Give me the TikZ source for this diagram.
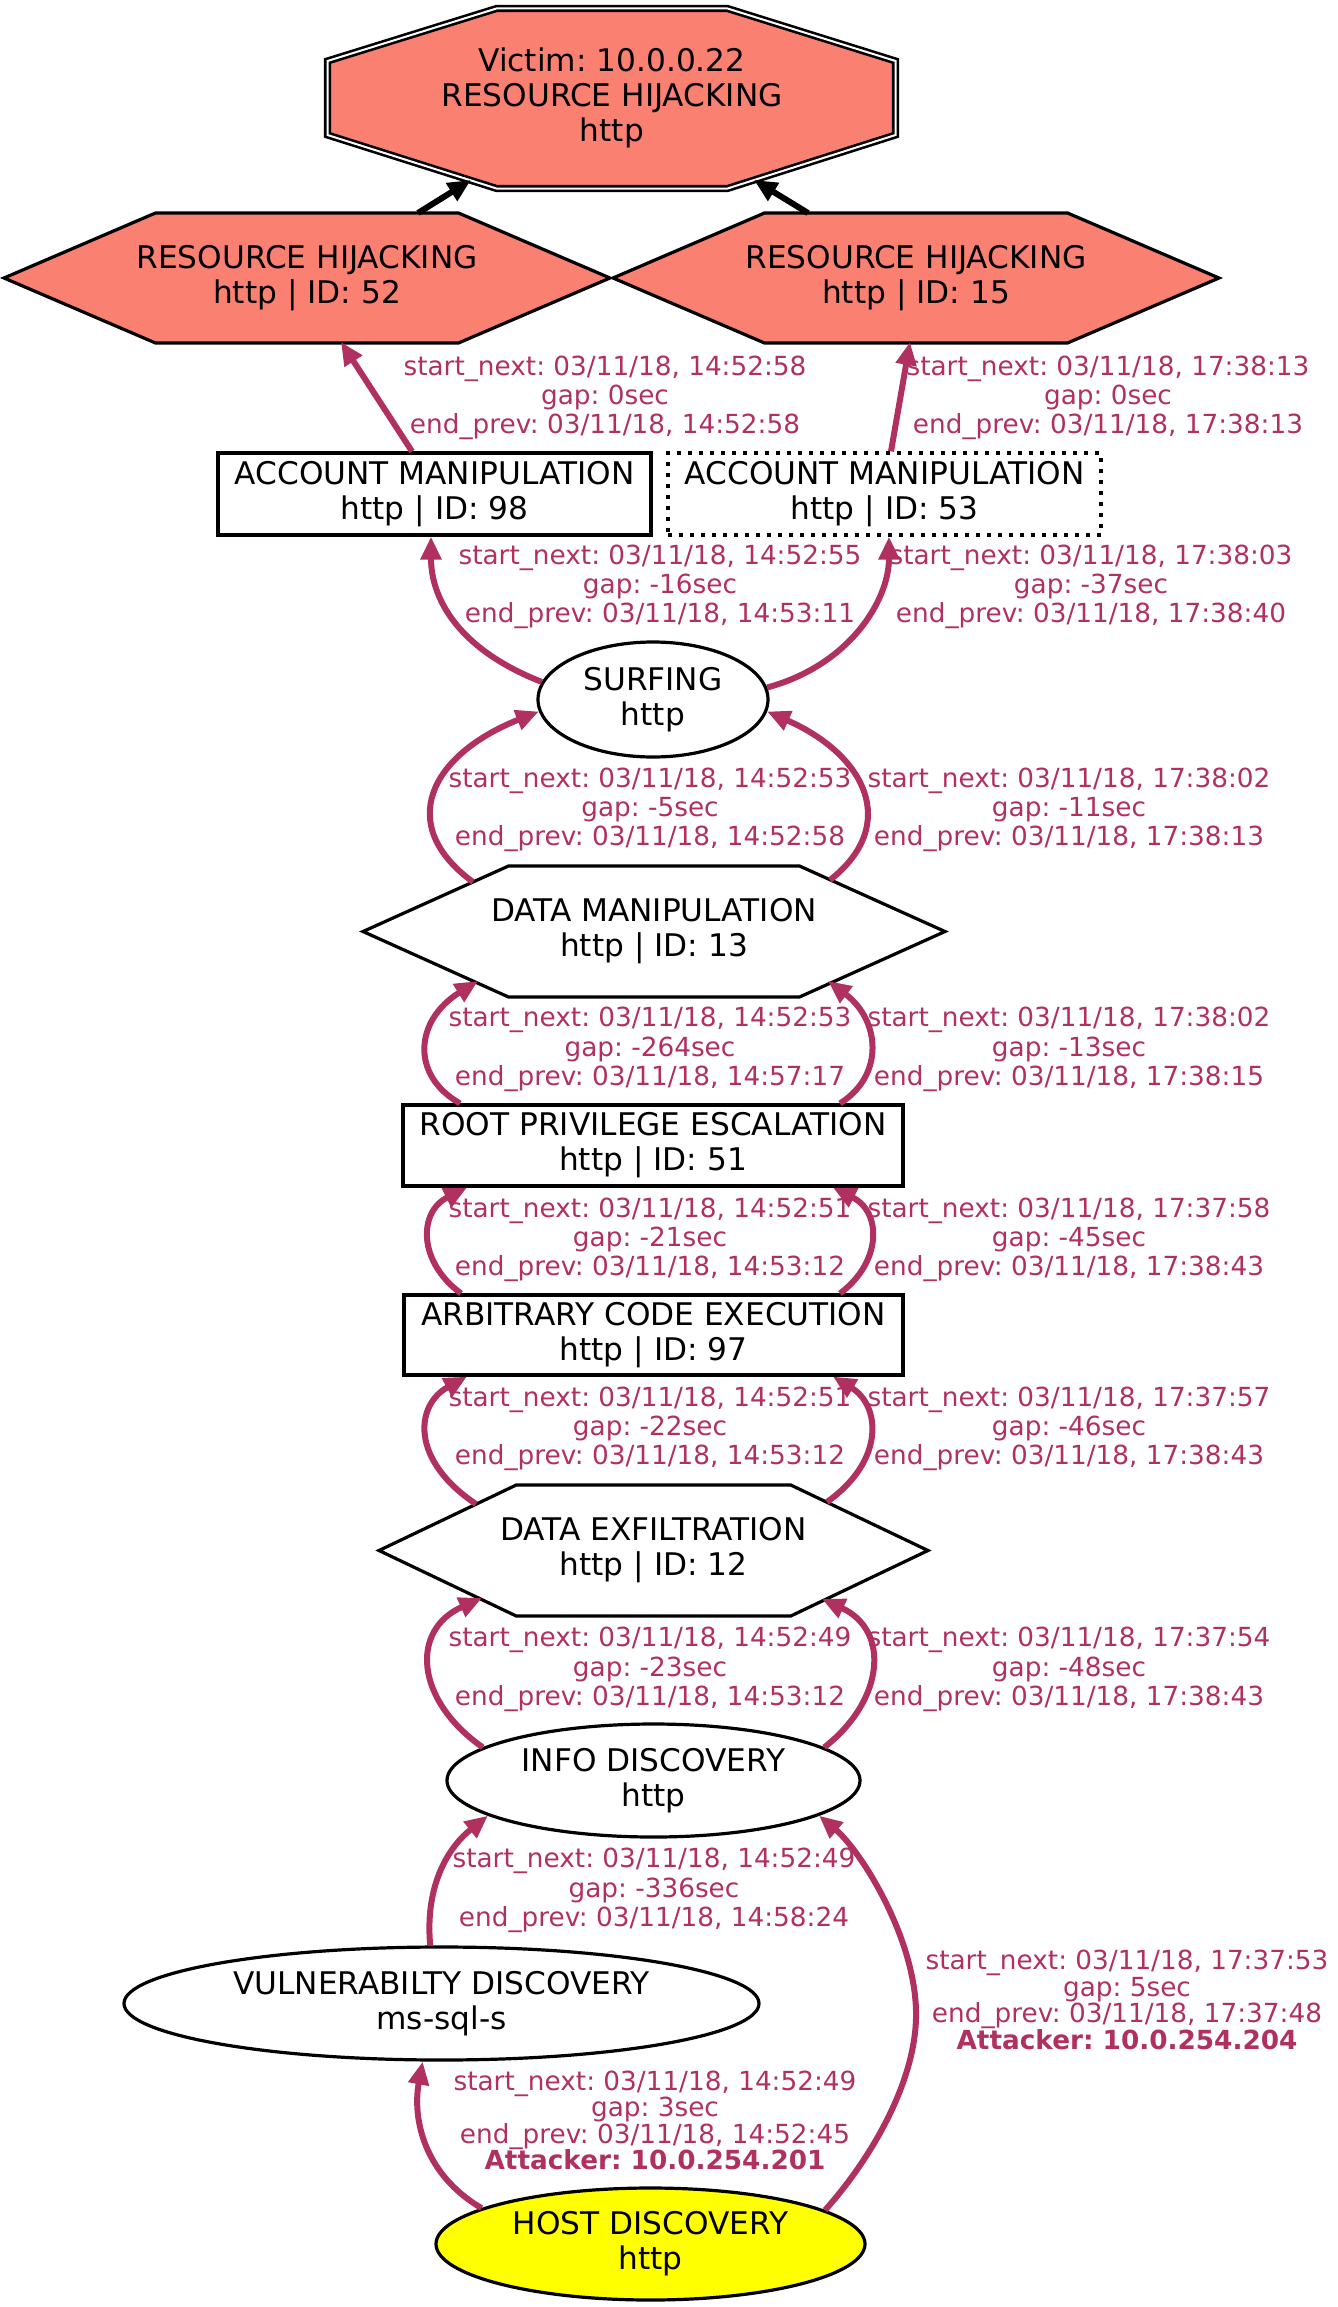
\documentclass[tikz,border=0pt]{standalone}
\usepackage{fontspec}
\setmainfont{DejaVu Sans}
\frenchspacing
\usetikzlibrary{arrows.meta,calc,shapes.geometric}
\definecolor{salmonc}{HTML}{FA8072}
\definecolor{maroonc}{HTML}{B03060}
\definecolor{yellowc}{HTML}{FFFF00}
\tikzset{
 nodeline/.style={draw=black, line width=1.6pt, line join=miter},
 nodetext/.style={font=\fontsize{15.6pt}{17.5pt}\selectfont\frenchspacing, align=center, inner sep=0pt},
 rectbox/.style={nodeline, nodetext, rectangle, minimum height=41pt},
 ellbox/.style={nodeline, nodetext, ellipse},
 redge/.style={draw=maroonc, line width=3pt, -{Triangle[length=11.5pt,width=10pt]}},
 bedge/.style={draw=black, line width=3pt, -{Triangle[length=11.5pt,width=10pt]}},
 elabel/.style={text=maroonc, font=\fontsize{13.15pt}{14.65pt}\selectfont\frenchspacing, align=center, inner sep=0pt},
 elabelb/.style={text=maroonc, font=\fontsize{13.15pt}{13.25pt}\selectfont\frenchspacing, align=center, inner sep=0pt},
}
\newcommand{\HexNode}[7]{%
  \draw[nodeline, fill=#6] ({#2-#4/2},#3) -- ({#2-#4/4},{#3-#5/2}) -- ({#2+#4/4},{#3-#5/2}) -- ({#2+#4/2},#3) -- ({#2+#4/4},{#3+#5/2}) -- ({#2-#4/4},{#3+#5/2}) -- cycle;
  \node[nodetext] (#1) at (#2,#3) {#7};
}
\begin{document}
\begin{tikzpicture}[x=0.5pt,y=-0.5pt]
\useasboundingbox (0,0) rectangle (1338,2307);

% victim octagon
\draw[draw=black, line width=1.3pt, double=white, double distance=1pt, fill=salmonc]
  (496.5,8.5) -- (727.5,8.5) -- (895.5,61) -- (895.5,135) -- (727.5,188.5) -- (496.5,188.5) -- (327.5,135) -- (327.5,61) -- cycle;
\node[nodetext] (victim) at (612,98) {Victim: 10.0.0.22\\RESOURCE HIJACKING\\http};

\HexNode{rh52}{307}{278}{606}{130}{salmonc}{RESOURCE HIJACKING\\http | ID: 52}
\HexNode{rh15}{916}{278}{606}{130}{salmonc}{RESOURCE HIJACKING\\http | ID: 15}

\node[rectbox, minimum width=216.5pt] (am98) at (434.5,494) {ACCOUNT MANIPULATION\\http | ID: 98};
\node[rectbox, minimum width=216.5pt, dash pattern=on 2pt off 3.5pt] (am53) at (884.5,494) {ACCOUNT MANIPULATION\\http | ID: 53};

\node[ellbox, minimum width=115pt, minimum height=57.5pt] (surf) at (653,699.5) {SURFING\\http};
\HexNode{dm}{654}{931.5}{582}{131}{white}{DATA MANIPULATION\\http | ID: 13}
\node[rectbox, minimum width=250pt, minimum height=40.5pt] (root) at (653,1145.5) {ROOT PRIVILEGE ESCALATION\\http | ID: 51};
\node[rectbox, minimum width=249.5pt, minimum height=40pt] (ace) at (653.5,1335) {ARBITRARY CODE EXECUTION\\http | ID: 97};
\HexNode{dex}{653.5}{1550.5}{549}{131}{white}{DATA EXFILTRATION\\http | ID: 12}
\node[ellbox, minimum width=206.5pt, minimum height=56.5pt] (idis) at (653.5,1780.5) {INFO DISCOVERY\\http};
\node[ellbox, minimum width=317.5pt, minimum height=56.5pt] (vuln) at (441.5,2003.5) {VULNERABILTY DISCOVERY\\ms-sql-s};
\node[ellbox, fill=yellowc, minimum width=214.5pt, minimum height=56pt] (host) at (650.5,2244) {HOST DISCOVERY\\http};

% edges
\draw[bedge] ($(rh52)+(111,-65)$) -- ($(victim)+(-141,82)$);
\draw[bedge] ($(rh15)+(-108,-65)$) -- ($(victim)+(142,82)$);
\draw[redge] ($(am98.north)+(-22.5,0)$) -- ($(rh52)+(34,64)$);
\draw[redge] ($(am53.north)+(6.5,0)$) -- ($(rh15)+(-6,64)$);
\draw[redge] (surf.171.5) .. controls (460,650) and (431,600) .. ($(am98.south)+(-3.5,0)$);
\draw[redge] (surf.6.3) .. controls (850,665) and (889,600) .. ($(am53.south)+(4.5,0)$);
\draw[redge] ($(dm)+(-181,-49.5)$) .. controls (395,825) and (430,755) .. (surf.-174);
\draw[redge] ($(dm)+(176,-51.5)$) .. controls (900,825) and (866,755) .. (surf.-6.5);
\draw[redge] ($(root.north)+(-193,0)$) .. controls (410,1075) and (415,1020) .. ($(dm)+(-176,49.5)$);
\draw[redge] ($(root.north)+(187,0)$) .. controls (885,1075) and (880,1020) .. ($(dm)+(174,49.5)$);
\draw[redge] ($(ace.north)+(-192.5,0)$) .. controls (418,1262) and (418,1212) .. ($(root.south)+(-186,0)$);
\draw[redge] ($(ace.north)+(186.5,0)$) .. controls (882,1262) and (882,1212) .. ($(root.south)+(180,0)$);
\draw[redge] ($(dex)+(-177.5,-46.5)$) .. controls (410,1460) and (415,1405) .. ($(ace.south)+(-186.5,0)$);
\draw[redge] ($(dex)+(173.5,-48.5)$) .. controls (886,1460) and (880,1405) .. ($(ace.south)+(179.5,0)$);
\draw[redge] (idis.169) .. controls (415,1700) and (410,1630) .. ($(dex)+(-171.5,47.5)$);
\draw[redge] (idis.11.65) .. controls (885,1700) and (890,1630) .. ($(dex)+(168.5,48.5)$);
\draw[redge] (vuln.101.5) .. controls (425,1890) and (445,1850) .. (idis.-168.1);
\draw[redge] (host.168.7) .. controls (425,2175) and (412,2120) .. (vuln.-108.4);
\draw[redge] (host.11.8) .. controls (870,2160) and (918,2080) .. (916,2010) .. controls (914,1935) and (860,1850) .. (idis.-12.1);

% labels
\node[elabel] (l1) at (605,398) {start\_next: 03/11/18, 14:52:58\\gap: 0sec\\end\_prev: 03/11/18, 14:52:58};
\node[elabel] (l2) at (1108,398) {start\_next: 03/11/18, 17:38:13\\gap: 0sec\\end\_prev: 03/11/18, 17:38:13};
\node[elabel] (l3) at (660,587) {start\_next: 03/11/18, 14:52:55\\gap: -16sec\\end\_prev: 03/11/18, 14:53:11};
\node[elabel] (l4) at (1091,587) {start\_next: 03/11/18, 17:38:03\\gap: -37sec\\end\_prev: 03/11/18, 17:38:40};
\node[elabel] (l5) at (650,810) {start\_next: 03/11/18, 14:52:53\\gap: -5sec\\end\_prev: 03/11/18, 14:52:58};
\node[elabel] (l6) at (1069,810) {start\_next: 03/11/18, 17:38:02\\gap: -11sec\\end\_prev: 03/11/18, 17:38:13};
\node[elabel] (l7) at (650,1049.5) {start\_next: 03/11/18, 14:52:53\\gap: -264sec\\end\_prev: 03/11/18, 14:57:17};
\node[elabel] (l8) at (1069,1049.5) {start\_next: 03/11/18, 17:38:02\\gap: -13sec\\end\_prev: 03/11/18, 17:38:15};
\node[elabel] (l9) at (650,1240) {start\_next: 03/11/18, 14:52:51\\gap: -21sec\\end\_prev: 03/11/18, 14:53:12};
\node[elabel] (l10) at (1069,1240) {start\_next: 03/11/18, 17:37:58\\gap: -45sec\\end\_prev: 03/11/18, 17:38:43};
\node[elabel] (l11) at (650,1429) {start\_next: 03/11/18, 14:52:51\\gap: -22sec\\end\_prev: 03/11/18, 14:53:12};
\node[elabel] (l12) at (1069,1429) {start\_next: 03/11/18, 17:37:57\\gap: -46sec\\end\_prev: 03/11/18, 17:38:43};
\node[elabel] (l13) at (650,1669.5) {start\_next: 03/11/18, 14:52:49\\gap: -23sec\\end\_prev: 03/11/18, 14:53:12};
\node[elabel] (l14) at (1069,1669.5) {start\_next: 03/11/18, 17:37:54\\gap: -48sec\\end\_prev: 03/11/18, 17:38:43};
\node[elabel] (l15) at (654,1890.5) {start\_next: 03/11/18, 14:52:49\\gap: -336sec\\end\_prev: 03/11/18, 14:58:24};
\node[elabelb] (l16) at (655,2120.5) {start\_next: 03/11/18, 14:52:49\\gap: 3sec\\end\_prev: 03/11/18, 14:52:45\\\textbf{Attacker: 10.0.254.201}};
\node[elabelb] (l17) at (1127,2000) {start\_next: 03/11/18, 17:37:53\\gap: 5sec\\end\_prev: 03/11/18, 17:37:48\\\textbf{Attacker: 10.0.254.204}};
\end{tikzpicture}
\end{document}
